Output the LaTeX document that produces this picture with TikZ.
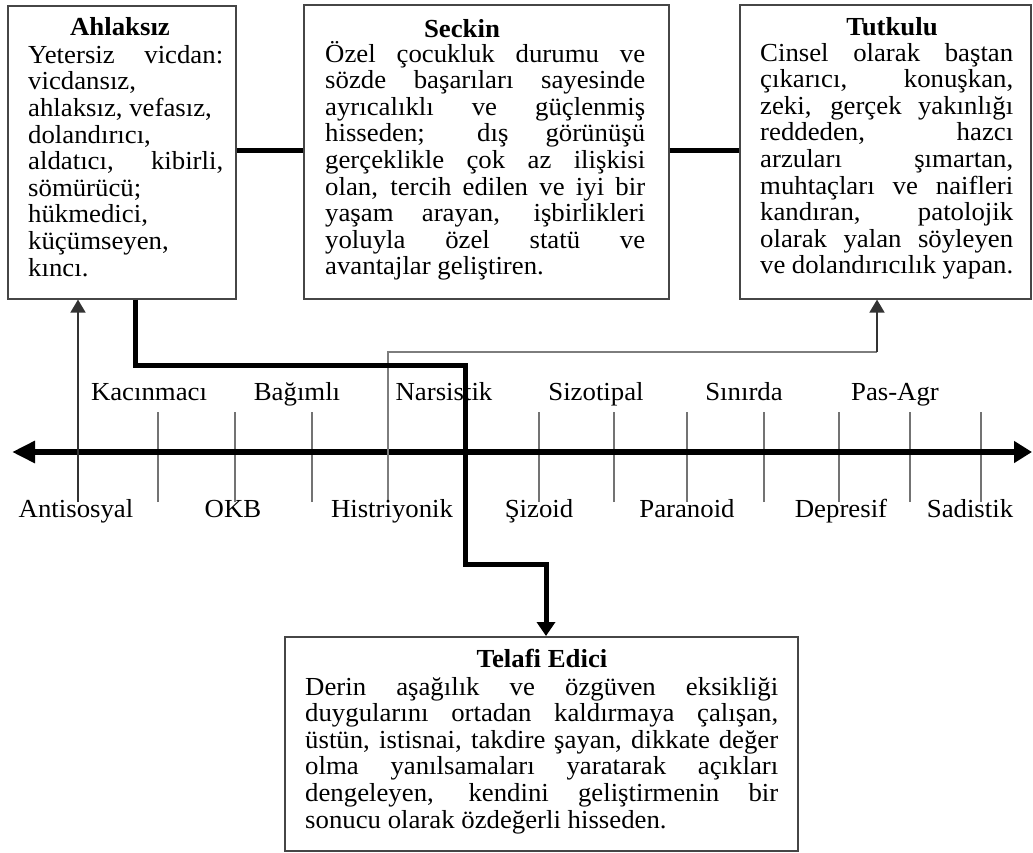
\documentclass[tikz,border=0pt]{standalone}
\usepackage{fontspec}
\setmainfont{Liberation Serif}[FakeStretch=1.03]
\usetikzlibrary{arrows.meta}

\definecolor{framegray}{RGB}{70,70,70}
\definecolor{tickgray}{RGB}{115,115,115}
\definecolor{linkgray}{RGB}{125,125,125}

% one justified line, one plain line, and a block of such lines
\newcommand{\jl}[1]{\makebox[\hsize][s]{#1}\par}
\newcommand{\pl}[1]{\makebox[\hsize][l]{#1}\par}
\newcommand{\lines}[2]{\vtop{\hsize=#1\parindent=0pt\parskip=0pt
  \lineskiplimit=-100pt\lineskip=0pt\baselineskip=26.6pt #2}}

\begin{document}
\begin{tikzpicture}[x=1pt,y=-1pt,
  panel/.style={draw=framegray,line width=1.6pt,fill=white,inner sep=0pt,anchor=north west},
  body/.style={inner sep=0pt,anchor=base west,font=\fontsize{26}{26.6}\selectfont},
  title/.style={inner sep=0pt,anchor=base,font=\fontsize{26}{26.6}\selectfont\bfseries},
  lbl/.style={inner sep=0pt,anchor=base,font=\fontsize{26}{26.6}\selectfont},
  tick/.style={draw=tickgray,line width=1.6pt},
  axis/.style={line width=6pt,{Triangle[length=23pt,width=21pt]}-{Triangle[length=18pt,width=21pt]}},
  bold link/.style={line width=5pt,line join=miter},
  thin link/.style={draw=linkgray,line width=1.8pt},
  up link/.style={draw=black!80,line width=1.8pt,-{Triangle[length=13pt,width=15pt]}},
]
\useasboundingbox (0,0) rectangle (1033,852);

% ---------- the four panels ----------
\node[panel,minimum width=228pt,minimum height=293pt] (ahl) at (7,5) {};
\node[panel,minimum width=365pt,minimum height=294pt] (sec) at (303,4) {};
\node[panel,minimum width=291pt,minimum height=294pt] (tut) at (739,4) {};
\node[panel,minimum width=513pt,minimum height=214pt] (tel) at (284,636) {};

\node[title] (ahl-t) at (120,35) {Ahlaksız};
\node[body] (ahl-b) at (28,63.3) {\lines{195pt}{%
  \jl{Yetersiz vicdan:}
  \pl{vicdansız,}
  \pl{ahlaksız, vefasız,}
  \pl{dolandırıcı,}
  \jl{aldatıcı, kibirli,}
  \pl{sömürücü;}
  \pl{hükmedici,}
  \pl{küçümseyen,}
  \pl{kıncı.}}};

\node[title] (sec-t) at (462,37) {Seckin};
\node[body] (sec-b) at (325,62) {\lines{320pt}{%
  \jl{Özel çocukluk durumu ve}
  \jl{sözde başarıları sayesinde}
  \jl{ayrıcalıklı ve güçlenmiş}
  \jl{hisseden; dış görünüşü}
  \jl{gerçeklikle çok az ilişkisi}
  \jl{olan, tercih edilen ve iyi bir}
  \jl{yaşam arayan, işbirlikleri}
  \jl{yoluyla özel statü ve}
  \pl{avantajlar geliştiren.}}};

\node[title] (tut-t) at (892,35) {Tutkulu};
\node[body] (tut-b) at (760,61) {\lines{253pt}{%
  \jl{Cinsel olarak baştan}
  \jl{çıkarıcı, konuşkan,}
  \jl{zeki, gerçek yakınlığı}
  \jl{reddeden, hazcı}
  \jl{arzuları şımartan,}
  \jl{muhtaçları ve naifleri}
  \jl{kandıran, patolojik}
  \jl{olarak yalan söyleyen}
  \jl{ve dolandırıcılık yapan.}}};

\node[title] (tel-t) at (542,667) {Telafi Edici};
\node[body] (tel-b) at (305,695) {\lines{473pt}{%
  \jl{Derin aşağılık ve özgüven eksikliği}
  \jl{duygularını ortadan kaldırmaya çalışan,}
  \jl{üstün, istisnai, takdire şayan, dikkate değer}
  \jl{olma yanılsamaları yaratarak açıkları}
  \jl{dengeleyen, kendini geliştirmenin bir}
  \pl{sonucu olarak özdeğerli hisseden.}}};

% ---------- links between the upper panels ----------
\coordinate (row) at (0,150);
\draw[bold link] (ahl.east |- row) -- (sec.west |- row);
\draw[bold link] (sec.east |- row) -- (tut.west |- row);

% ---------- the axis and its ticks ----------
\coordinate (axL) at (12,452);
\coordinate (axR) at (1032,452);
\foreach \name/\x in {k1/78,k2/158,k3/235,k4/312,k5/388,k6/465,k7/539,
                      k8/614,k9/687,k10/764,k11/839,k12/910,k13/981}{
  \coordinate (\name) at (\x,502);
  \coordinate (\name-top) at (\x,412);
  \draw[tick] (\name) -- (\name-top);
}
\draw[axis] (axL) -- (axR);

% ---------- thin links up to the panels ----------
\draw[up link] (k1) -- (k1 |- ahl.south);
\coordinate (hbend) at (877,352);
\draw[thin link] (k5) -- (k5 |- hbend) -- (hbend);
\draw[up link] (hbend) -- (hbend |- tut.south);

% ---------- bold link down to the lower panel ----------
\coordinate (c1) at (135,365);
\coordinate (c2) at (465,365);
\coordinate (c3) at (465,564);
\coordinate (c4) at (546,564);
\draw[bold link,-{Triangle[length=14pt,width=18pt]}]
  (c1 |- ahl.south) -- (c1) -- (c2) -- (c3) -- (c4) -- (c4 |- tel.north);

% ---------- axis labels ----------
\node[lbl] (l-kac) at (149,400) {Kacınmacı};
\node[lbl] (l-bag) at (297,400) {Bağımlı};
\node[lbl] (l-nar) at (444,400) {Narsistik};
\node[lbl] (l-siz) at (596,400) {Sizotipal};
\node[lbl] (l-sin) at (744,400) {Sınırda};
\node[lbl] (l-pas) at (895,400) {Pas-Agr};

\node[lbl] (l-ant) at (76,517) {Antisosyal};
\node[lbl] (l-okb) at (233,517) {OKB};
\node[lbl] (l-his) at (392,517) {Histriyonik};
\node[lbl] (l-szd) at (539,517) {Şizoid};
\node[lbl] (l-par) at (687,517) {Paranoid};
\node[lbl] (l-dep) at (841,517) {Depresif};
\node[lbl] (l-sad) at (970,517) {Sadistik};
\end{tikzpicture}
\end{document}
